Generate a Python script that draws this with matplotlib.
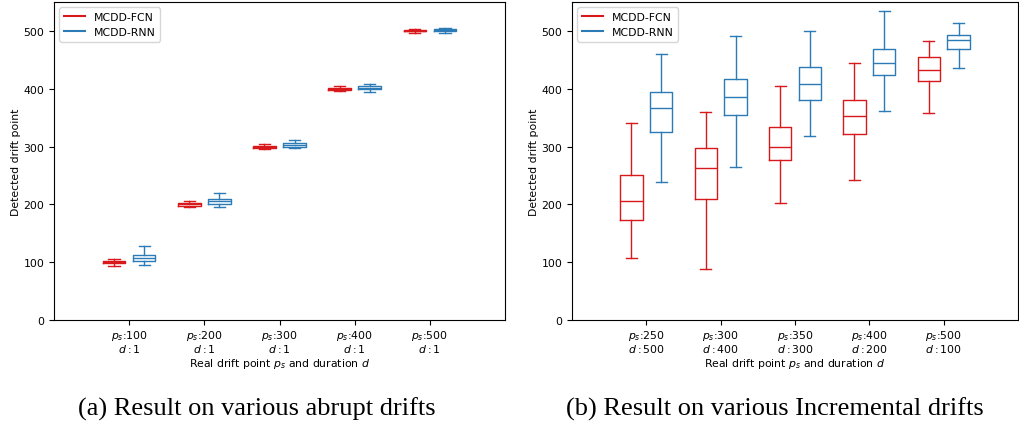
import numpy as np
import matplotlib
matplotlib.use("Agg")
import matplotlib.pyplot as plt

# Five-number summaries of the detected drift points (per setting)
abrupt_ticks = ["$p_s$:100\n$d:1$", "$p_s$:200\n$d:1$", "$p_s$:300\n$d:1$",
                "$p_s$:400\n$d:1$", "$p_s$:500\n$d:1$"]
abrupt_fcn_lo = [94, 195, 296, 396, 496]
abrupt_fcn_q1 = [98, 198, 298, 398, 499]
abrupt_fcn_med = [100, 200, 300, 400, 500]
abrupt_fcn_q3 = [102, 202, 301, 402, 502]
abrupt_fcn_hi = [105, 205, 304, 405, 504]

abrupt_rnn_lo = [95, 196, 297, 395, 497]
abrupt_rnn_q1 = [102, 200, 299, 400, 499]
abrupt_rnn_med = [108, 205, 303, 402, 501]
abrupt_rnn_q3 = [113, 209, 306, 404, 503]
abrupt_rnn_hi = [128, 220, 311, 408, 505]

incr_ticks = ["$p_s$:250\n$d:500$", "$p_s$:300\n$d:400$", "$p_s$:350\n$d:300$",
              "$p_s$:400\n$d:200$", "$p_s$:500\n$d:100$"]
incr_fcn_lo = [107, 89, 203, 242, 358]
incr_fcn_q1 = [173, 210, 276, 321, 414]
incr_fcn_med = [205, 263, 299, 352, 433]
incr_fcn_q3 = [251, 297, 333, 380, 455]
incr_fcn_hi = [340, 360, 405, 444, 482]

incr_rnn_lo = [238, 265, 318, 361, 436]
incr_rnn_q1 = [325, 355, 380, 423, 469]
incr_rnn_med = [367, 386, 408, 445, 485]
incr_rnn_q3 = [394, 416, 437, 469, 493]
incr_rnn_hi = [460, 491, 499, 535, 513]

RED = '#D7191C'
BLUE = '#2C7BB6'
FS = 7.8


def make_stats(lo, q1, med, q3, hi):
    return [dict(whislo=a, q1=b, med=c, q3=d, whishi=e, fliers=[])
            for a, b, c, d, e in zip(lo, q1, med, q3, hi)]


def set_box_color(bp, color):
    for key in ['boxes', 'whiskers', 'caps', 'medians']:
        plt.setp(bp[key], color=color, linewidth=1.0)


def draw(ax, ticks, fcn, rnn):
    n = len(ticks)
    bpl = ax.bxp(make_stats(*fcn), positions=np.arange(n) * 2.0 - 0.4,
                 widths=0.6, showfliers=False)
    bpr = ax.bxp(make_stats(*rnn), positions=np.arange(n) * 2.0 + 0.4,
                 widths=0.6, showfliers=False)
    set_box_color(bpl, RED)
    set_box_color(bpr, BLUE)
    ax.plot([], c=RED, label='MCDD-FCN')
    ax.plot([], c=BLUE, label='MCDD-RNN')
    ax.legend(loc='upper left', fontsize=FS)
    ax.set_xticks(range(0, n * 2, 2))
    ax.set_xticklabels(ticks, fontsize=FS, linespacing=1.0)
    ax.set_xlim(-2, n * 2)
    ax.set_ylim(0, 550)
    ax.set_yticks([0, 100, 200, 300, 400, 500])
    ax.tick_params(axis='y', labelsize=FS)
    ax.tick_params(axis='x', pad=2.5)
    ax.set_xlabel('Real drift point $p_s$ and duration $d$', fontsize=FS, labelpad=1)
    ax.set_ylabel('Detected drift point', fontsize=FS, labelpad=2)


fig = plt.figure(figsize=(10.19, 4.27), dpi=100)
ax1 = fig.add_axes([54 / 1019, 1 - 321 / 427, 451 / 1019, 318 / 427])
ax2 = fig.add_axes([572 / 1019, 1 - 321 / 427, 446 / 1019, 318 / 427])

draw(ax1, abrupt_ticks,
     (abrupt_fcn_lo, abrupt_fcn_q1, abrupt_fcn_med, abrupt_fcn_q3, abrupt_fcn_hi),
     (abrupt_rnn_lo, abrupt_rnn_q1, abrupt_rnn_med, abrupt_rnn_q3, abrupt_rnn_hi))
draw(ax2, incr_ticks,
     (incr_fcn_lo, incr_fcn_q1, incr_fcn_med, incr_fcn_q3, incr_fcn_hi),
     (incr_rnn_lo, incr_rnn_q1, incr_rnn_med, incr_rnn_q3, incr_rnn_hi))

fig.text(257 / 1019, 1 - 409 / 427, '(a) Result on various abrupt drifts',
         ha='center', va='center', fontsize=19, family='Liberation Serif')
fig.text(775 / 1019, 1 - 409 / 427, '(b) Result on various Incremental drifts',
         ha='center', va='center', fontsize=19, family='Liberation Serif')

fig.savefig('out.png', dpi=100)
